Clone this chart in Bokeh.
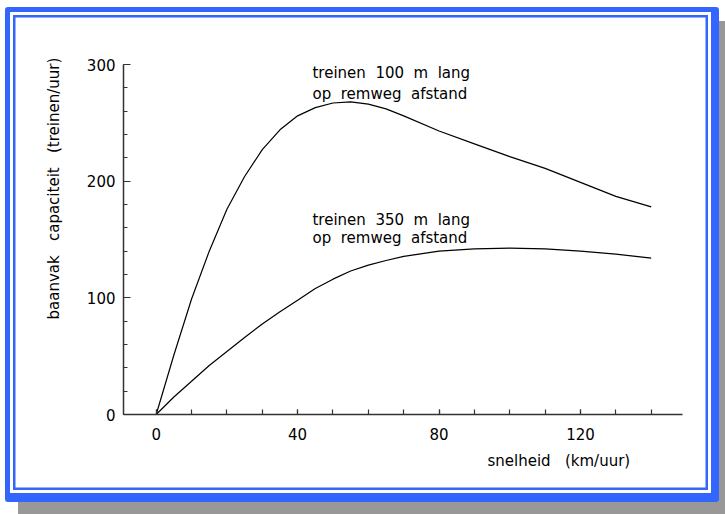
from bokeh.plotting import figure
from bokeh.models import FixedTicker, Label, Range1d, Title
from bokeh.embed import file_html
from bokeh.resources import INLINE

# ---- data ----
speed = [0, 5, 10, 15, 20, 25, 30, 35, 40, 45, 50, 55, 60, 65, 70, 80, 90, 100, 110, 120, 130, 140]
cap_100m = [0, 51, 99, 140, 176, 204, 227, 244, 256, 263, 267, 268, 266, 262, 256, 243, 232, 221, 211, 199, 187, 178]
cap_350m = [0, 15, 28.5, 42, 54, 66, 77.5, 88, 98, 108, 116, 123, 128, 132, 135.5, 140, 142, 142.6, 142, 140, 137.5, 134]
x_major = [0, 40, 80, 120]
x_minor = list(range(0, 150, 10))
y_major = [0, 100, 200, 300]
y_minor = list(range(0, 301, 20))

label_100 = ["treinen\u00a0 100\u00a0 m\u00a0 lang", "op\u00a0 remweg\u00a0 afstand"]
label_350 = ["treinen\u00a0 350\u00a0 m\u00a0 lang", "op\u00a0 remweg\u00a0 afstand"]
x_title = "snelheid\u00a0\u00a0 (km/uur)"
y_title = "baanvak\u00a0\u00a0 capaciteit\u00a0\u00a0 (treinen/uur)"

FONT = "DejaVu Sans"

p = figure(width=701, height=481, output_backend="svg", toolbar_location=None,
           x_range=Range1d(-9.25, 148.85), y_range=Range1d(0, 300),
           min_border_left=113, min_border_right=42, min_border_top=52, min_border_bottom=93)
p.grid.visible = False
p.outline_line_color = None
p.background_fill_color = "white"
p.border_fill_color = None

# blue double border with grey drop shadow, drawn by the page around the figure
p.styles = {
    "margin-left": "5px",
    "margin-top": "7px",
    "border-style": "solid",
    "border-color": "#3366ff",
    "border-width": "5px 8px 9px 5px",
    "border-radius": "3px",
    "box-sizing": "content-box",
    "background-color": "white",
    "box-shadow": "13px 14px 0 0 #989898, inset 0 0 0 3px #ffffff, inset 0 0 0 5.5px #3366ff",
}

p.line(speed, cap_100m, line_color="black", line_width=1.2)
p.line(speed, cap_350m, line_color="black", line_width=1.2)

for ax in (p.xaxis[0], p.yaxis[0]):
    ax.axis_line_color = "#333333"
    ax.axis_line_width = 1.5
    ax.major_tick_line_color = "#333333"
    ax.minor_tick_line_color = "#333333"
    ax.major_tick_line_width = 1.2
    ax.minor_tick_line_width = 1.2
    ax.major_tick_out = 0
    ax.minor_tick_out = 0
    ax.major_label_text_font = FONT
    ax.major_label_text_font_size = "15px"
    ax.major_label_text_color = "black"

p.xaxis.major_label_standoff = 13
p.yaxis.major_label_standoff = 8
p.xaxis.ticker = FixedTicker(ticks=x_major, minor_ticks=x_minor)
p.yaxis.ticker = FixedTicker(ticks=y_major, minor_ticks=y_minor)
p.xaxis.major_tick_in = 5
p.xaxis.minor_tick_in = 5
p.yaxis.major_tick_in = 7
p.yaxis.minor_tick_in = 4

def add_text(x, y, text):
    p.add_layout(Label(x=x, y=y, text=text, text_font=FONT, text_font_size="15px",
                       text_color="black", text_baseline="alphabetic"))

add_text(44.2, 292.5, label_100[0])
add_text(44.2, 274.9, label_100[1])
add_text(44.2, 166.9, label_350[0])
add_text(44.2, 151.5, label_350[1])

p.add_layout(Title(text=x_title, align="left", offset=364, standoff=14,
                   text_font=FONT, text_font_size="15px", text_font_style="normal",
                   text_color="black"), "below")
p.add_layout(Title(text=y_title, align="left", offset=95, standoff=41,
                   text_font=FONT, text_font_size="15px", text_font_style="normal",
                   text_color="black"), "left")

open("out.html", "w").write(file_html(p, INLINE))
